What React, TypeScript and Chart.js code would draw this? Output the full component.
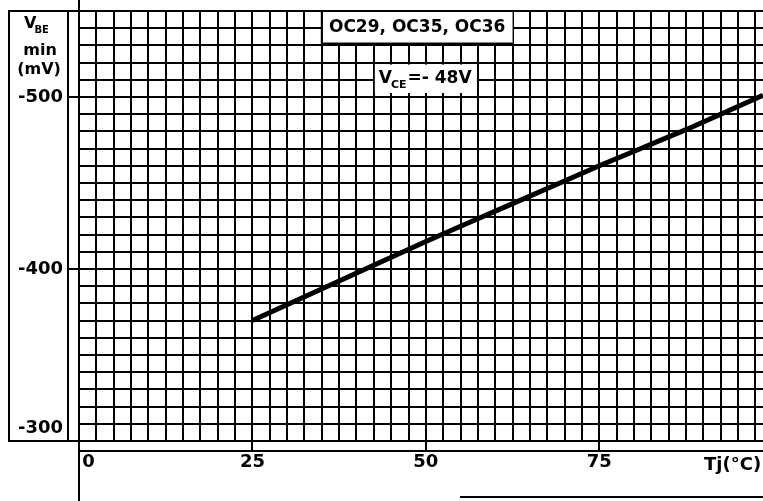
import { useEffect, useRef } from "react";
import { Chart, registerables } from "chart.js";

Chart.register(...registerables);

// Data
const tempC = [25, 37.5, 50, 62.5, 75, 87.5, 98.6];
const vbeMin = [-370, -393, -416, -438, -460, -481, -501];

// Axis definition
const xMin = 0;
const xMax = 98.6;
const xStep = 2.5;
const xTickLabels = [0, 25, 50, 75];
const yMin = -550;
const yMax = -300;
const yStep = 10;
const yTickLabels = [-300, -400, -500];

// Texts
const deviceLabel = "OC29, OC35, OC36";
const vceMain = "V";
const vceSub = "CE";
const vceValue = "=- 48V";
const xTitle = "Tj(°C)";
const yTitleMain = "V";
const yTitleSub = "BE";
const yTitleLine2 = "min";
const yTitleLine3 = "(mV)";

const FAMILY = '"DejaVu Sans", sans-serif';

const decorPlugin = {
  id: "decor",
  afterDraw(chart: any) {
    const ctx = chart.ctx as CanvasRenderingContext2D;
    const a = chart.chartArea;
    const xs = chart.scales.x;
    const ys = chart.scales.y;
    ctx.save();
    ctx.strokeStyle = "#000";
    ctx.lineWidth = 2;
    ctx.beginPath();
    // left label panel
    ctx.moveTo(8, a.top);
    ctx.lineTo(a.left, a.top);
    ctx.moveTo(9, a.top);
    ctx.lineTo(9, a.bottom);
    ctx.moveTo(68, a.top);
    ctx.lineTo(68, a.bottom);
    ctx.moveTo(8, a.bottom);
    ctx.lineTo(a.left, a.bottom);
    // vertical axis extended
    ctx.moveTo(a.left, 0);
    ctx.lineTo(a.left, chart.height);
    // lower axis line
    ctx.moveTo(a.left, a.bottom + 10);
    ctx.lineTo(a.right, a.bottom + 10);
    ctx.moveTo(460, chart.height - 4);
    ctx.lineTo(a.right, chart.height - 4);
    ctx.stroke();

    // device label box
    const b1l = xs.getPixelForValue(35);
    const b1r = xs.getPixelForValue(62.5);
    const b1t = ys.getPixelForValue(-550);
    const b1b = ys.getPixelForValue(-530);
    ctx.fillStyle = "#fff";
    ctx.fillRect(b1l + 1, b1t + 1, b1r - b1l - 1, b1b - b1t - 3);
    ctx.beginPath();
    ctx.moveTo(b1l, b1t);
    ctx.lineTo(b1l, b1b - 2);
    ctx.lineTo(b1r, b1b - 2);
    ctx.stroke();
    ctx.fillStyle = "#000";
    ctx.font = `bold 17px ${FAMILY}`;
    ctx.textAlign = "center";
    ctx.textBaseline = "alphabetic";
    ctx.fillText(deviceLabel, (b1l + b1r) / 2, b1t + 21);

    // VCE box
    const b2l = xs.getPixelForValue(42.5);
    const b2r = xs.getPixelForValue(57.5);
    const b2t = ys.getPixelForValue(-520);
    const b2b = ys.getPixelForValue(-500);
    ctx.fillStyle = "#fff";
    ctx.fillRect(b2l + 1, b2t + 2, b2r - b2l - 2, b2b - b2t - 6);
    ctx.fillStyle = "#000";
    ctx.textAlign = "left";
    let x = b2l + 5;
    const base = b2t + 20;
    ctx.font = `bold 17px ${FAMILY}`;
    ctx.fillText(vceMain, x, base);
    x += ctx.measureText(vceMain).width - 1;
    ctx.font = `bold 11px ${FAMILY}`;
    ctx.fillText(vceSub, x, base + 5);
    x += ctx.measureText(vceSub).width + 1;
    ctx.font = `bold 17px ${FAMILY}`;
    ctx.fillText(vceValue, x, base);

    // y title in left panel
    ctx.font = `bold 16px ${FAMILY}`;
    ctx.textAlign = "left";
    ctx.fillText(yTitleMain, 24, 28);
    const vw = ctx.measureText(yTitleMain).width;
    ctx.font = `bold 10px ${FAMILY}`;
    ctx.fillText(yTitleSub, 24 + vw - 2, 33);
    ctx.font = `bold 16px ${FAMILY}`;
    ctx.textAlign = "center";
    ctx.fillText(yTitleLine2, 40, 55);
    ctx.fillText(yTitleLine3, 39, 74);

    // x title
    ctx.font = `bold 18px ${FAMILY}`;
    ctx.textAlign = "left";
    ctx.fillText(xTitle, 704, a.bottom + 29);
    ctx.restore();
  },
};

export default function App() {
  const ref = useRef<HTMLCanvasElement | null>(null);
  useEffect(() => {
    if (!ref.current) return;
    const tickFont = { family: FAMILY, size: 18, weight: "bold" as const };
    const chart = new Chart(ref.current, {
      type: "line",
      data: {
        datasets: [
          {
            data: tempC.map((t, i) => ({ x: t, y: vbeMin[i] })),
            borderColor: "#000",
            borderWidth: 5,
            pointRadius: 0,
            tension: 0.2,
            fill: false,
          },
        ],
      },
      options: {
        responsive: false,
        animation: false,
        layout: { padding: { top: 11, left: 0, right: 0, bottom: 0 } },
        plugins: { legend: { display: false }, tooltip: { enabled: false } },
        scales: {
          x: {
            type: "linear",
            min: xMin,
            max: xMax,
            ticks: {
              stepSize: xStep,
              autoSkip: false,
              maxRotation: 0,
              minRotation: 0,
              includeBounds: false,
              padding: 1,
              color: "#000",
              font: tickFont,
              callback: (v: any) => {
                const n = Math.round(Number(v) * 100) / 100;
                if (!xTickLabels.includes(n)) return "";
                return n === 0 ? "   " + n : String(n);
              },
            },
            grid: {
              color: "#000",
              lineWidth: 2,
              tickLength: 10,
              tickWidth: 2,
              tickColor: (c: any) =>
                c.tick && xTickLabels.includes(Math.round(c.tick.value * 100) / 100)
                  ? "#000"
                  : "rgba(0,0,0,0)",
            },
            border: { display: true, color: "#000", width: 2 },
            afterFit: (s: any) => {
              s.height = 60;
              s.paddingLeft = 0;
              s.paddingRight = 0;
            },
          },
          y: {
            type: "linear",
            reverse: true,
            min: yMin,
            max: yMax,
            ticks: {
              stepSize: yStep,
              autoSkip: false,
              padding: 5,
              color: "#000",
              font: { ...tickFont, lineHeight: 1.4 },
              callback: (v: any) => {
                const n = Math.round(Number(v));
                if (!yTickLabels.includes(n)) return "";
                return n === yMax ? [String(n), ""] : String(n);
              },
            },
            grid: {
              color: "#000",
              lineWidth: 2,
              tickLength: 11,
              tickWidth: 2,
              tickColor: (c: any) =>
                c.tick && yTickLabels.includes(Math.round(c.tick.value))
                  ? "#000"
                  : "rgba(0,0,0,0)",
            },
            border: { display: true, color: "#000", width: 2 },
            afterFit: (s: any) => {
              s.width = 79;
              s.paddingTop = 0;
              s.paddingBottom = 0;
            },
          },
        },
      },
      plugins: [decorPlugin],
    } as any);
    return () => chart.destroy();
  }, []);
  return (
    <div style={{ position: "fixed", left: 0, top: 0, width: 763, height: 501, background: "#fff" }}>
      <canvas ref={ref} width={763} height={501} style={{ display: "block" }} />
    </div>
  );
}
